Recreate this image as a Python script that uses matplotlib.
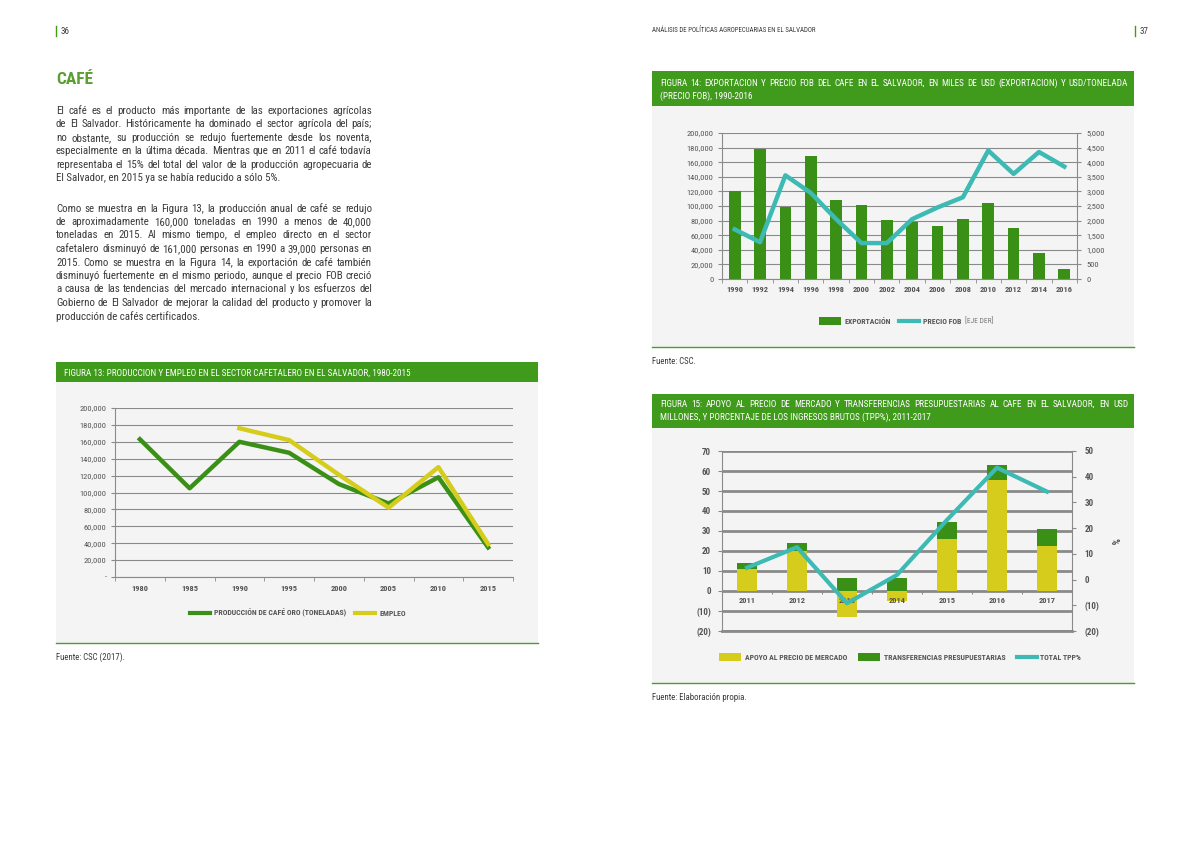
import numpy as np
import matplotlib.pyplot as plt
from matplotlib import font_manager
from matplotlib.font_manager import FontProperties
from matplotlib.patches import Rectangle
from matplotlib.lines import Line2D

# ---- data ----
years13 = ['1980', '1985', '1990', '1995', '2000', '2005', '2010', '2015']
prod13 = [163000, 105000, 160000, 147000, 110000, 87000, 118000, 35000]
emp13 = [np.nan, np.nan, 176000, 162000, 121000, 82000, 130000, 39000]

years14 = ['1990', '1992', '1994', '1996', '1998', '2000', '2002', '2004',
           '2006', '2008', '2010', '2012', '2014', '2016']
export14 = [120000, 178000, 99000, 168000, 108000, 101000, 81000, 78000,
            72000, 82000, 104000, 70000, 36000, 14000]
fob14 = [1700, 1260, 3550, 2950, 2050, 1230, 1230, 2050,
         2450, 2800, 4400, 3600, 4350, 3850]

years15 = ['2011', '2012', '2013', '2014', '2015', '2016', '2017']
apoyo15 = [11, 20, -12.8, -4.8, 26, 55.5, 22.5]
transf15 = [3, 4, 6.5, 6.5, 8.5, 7.5, 8.5]
tpp15 = [4.6, 12.6, -9.2, 1.8, 23.2, 43.5, 34.2]

para1 = [
    "El café es el producto más importante de las exportaciones agrícolas",
    "de El Salvador. Históricamente ha dominado el sector agrícola del país;",
    "no obstante, su producción se redujo fuertemente desde los noventa,",
    "especialmente en la última década. Mientras que en 2011 el café todavía",
    "representaba el 15% del total del valor de la producción agropecuaria de",
    "El Salvador, en 2015 ya se había reducido a sólo 5%.",
]
para2 = [
    "Como se muestra en la Figura 13, la producción anual de café se redujo",
    "de aproximadamente 160,000 toneladas en 1990 a menos de 40,000",
    "toneladas en 2015. Al mismo tiempo, el empleo directo en el sector",
    "cafetalero disminuyó de 161,000 personas en 1990 a 39,000 personas en",
    "2015. Como se muestra en la Figura 14, la exportación de café también",
    "disminuyó fuertemente en el mismo periodo, aunque el precio FOB creció",
    "a causa de las tendencias del mercado internacional y los esfuerzos del",
    "Gobierno de El Salvador de mejorar la calidad del producto y promover la",
    "producción de cafés certificados.",
]

# colours
GREEN = '#3a9016'
HEAD = '#409a1c'
YELLOW = '#d6cc1c'
TEAL = '#3cbab3'
PANEL = '#f4f4f4'
GRID = '#8a8a8a'
TXT = '#3a3a3a'


def pick_font(cands):
    # first installed condensed face, else a plain one
    for fam, stretch in cands:
        try:
            path = font_manager.findfont(FontProperties(family=fam, stretch=stretch),
                                         fallback_to_default=False)
        except ValueError:
            continue
        p = path.lower()
        if stretch == 'normal' or 'condensed' in p or 'narrow' in p:
            return fam, stretch
    return 'DejaVu Sans', 'normal'


FONT, STRETCH = pick_font([('Liberation Sans Narrow', 'normal'), ('Roboto Condensed', 'normal'),
                           ('Roboto', 'condensed'), ('Open Sans', 'condensed'),
                           ('DejaVu Sans', 'condensed'), ('Liberation Sans', 'normal')])
plt.rcParams['font.family'] = FONT
plt.rcParams['font.stretch'] = STRETCH

W, H = 1191, 842
fig = plt.figure(figsize=(W / 100, H / 100), dpi=100)
renderer = fig.canvas.get_renderer()


def fx(x):
    return x / W


def fy(y):
    return 1 - y / H


def rect(x0, y0, x1, y1, color, z=-5):
    fig.patches.append(Rectangle((fx(x0), fy(y1)), (x1 - x0) / W, (y1 - y0) / H,
                                 transform=fig.transFigure, color=color, zorder=z, lw=0))


def hline(x0, x1, y, color, lw):
    fig.lines.append(Line2D([fx(x0), fx(x1)], [fy(y), fy(y)],
                            transform=fig.transFigure, color=color, lw=lw))


def axes_box(x0, y0, x1, y1):
    a = fig.add_axes([fx(x0), fy(y1), (x1 - x0) / W, (y1 - y0) / H])
    a.set_facecolor('none')
    return a


def put(x, y, s, **kw):
    kw.setdefault('va', 'center')
    return fig.text(fx(x), fy(y), s, **kw)


def text_w(s, size, weight='normal'):
    fp = FontProperties(family=FONT, stretch=STRETCH, size=size, weight=weight)
    w, h, d = renderer.get_text_width_height_descent(s, fp, ismath=False)
    return w


def fit(s, width, weight='normal'):
    # font size that makes s about `width` px wide
    return 10 * width / text_w(s, 10, weight)


def justify(lines, x0, x1, y0, dy, size, **kw):
    # spread words so each line fills x0..x1 (last line left aligned)
    for i, line in enumerate(lines):
        y = y0 + i * dy
        if i == len(lines) - 1:
            put(x0, y, line, fontsize=size, **kw)
            continue
        words = line.split(' ')
        widths = [text_w(w, size) for w in words]
        gap = (x1 - x0 - sum(widths)) / max(len(words) - 1, 1)
        x = x0
        for w, wd in zip(words, widths):
            put(x, y, w, fontsize=size, **kw)
            x += wd + gap


def legend_row(items, xc, y, size, gap=9, suffix=None):
    # items: (kind, colour, label); laid out centred on xc
    keys = [22 if kind == 'bar' else 20 for kind, _, _ in items]
    widths = [k + 4 + text_w(lab, size, 'bold') for k, (_, _, lab) in zip(keys, items)]
    total = sum(widths) + gap * (len(items) - 1)
    if suffix:
        total += 3 + text_w(suffix, size * 0.95)
    x = xc - total / 2
    for (kind, col, lab), k, wd in zip(items, keys, widths):
        if kind == 'bar':
            rect(x, y - 4, x + k, y + 4, col, z=2)
        else:
            hline(x, x + k, y, col, 3)
        put(x + k + 4, y, lab, fontsize=size, fontweight='bold', color='#555')
        x += wd + gap
    if suffix:
        put(x - gap + 3, y, suffix, fontsize=size * 0.95, color='#777')


# ---- page furniture ----
for xb, num in [(56, '36'), (1135, '37')]:
    fig.lines.append(Line2D([fx(xb), fx(xb)], [fy(26), fy(36)],
                            transform=fig.transFigure, color=HEAD, lw=1))
    put(xb + 5, 31, num, fontsize=6.5, color=TXT)
top = 'ANÁLISIS DE POLÍTICAS AGROPECUARIAS EN EL SALVADOR'
put(652, 31, top, fontsize=fit(top, 165), color=TXT)

put(56, 80, 'CAFÉ', fontsize=12.5, color='#5b9e32', fontweight='bold')
body = min(8.5, min(fit(l, 312) for l in para1 + para2))
justify(para1, 56, 372, 111, 13.4, body, color=TXT)
justify(para2, 56, 372, 208.5, 13.5, body, color=TXT)

# ---- panels ----
panels = [(56, 538, 362, 382, 643), (652, 1134, 71, 106, 347), (652, 1134, 394, 428, 683)]
for x0, x1, yh, yp, yb in panels:
    rect(x0, yh, x1, yp, HEAD)
    rect(x0, yp, x1, yb, PANEL)
    hline(x0, x1, yb, '#4f9a2a', 1.0)

h13 = 'FIGURA 13: PRODUCCION Y EMPLEO EN EL SECTOR CAFETALERO EN EL SALVADOR, 1980-2015'
h14 = ['FIGURA 14: EXPORTACION Y PRECIO FOB DEL CAFE EN EL SALVADOR, EN MILES DE USD (EXPORTACION) Y USD/TONELADA',
       '(PRECIO FOB), 1990-2016']
h15 = ['FIGURA 15: APOYO AL PRECIO DE MERCADO Y TRANSFERENCIAS PRESUPUESTARIAS AL CAFE EN EL SALVADOR, EN USD',
       'MILLONES, Y PORCENTAJE DE LOS INGRESOS BRUTOS (TPP%), 2011-2017']
hsize = min(7.5, fit(h13, 345), fit(h14[0], 455), fit(h15[0], 455))
put(64, 373, h13, fontsize=hsize, color='white')
justify(h14, 660, 1128, 83, 13, hsize, color='white')
justify(h15, 660, 1128, 404, 13, hsize, color='white')

src = [(56, 657, 'Fuente: CSC (2017).', 70), (652, 362, 'Fuente: CSC.', 45),
       (652, 698, 'Fuente: Elaboración propia.', 94)]
fsrc = min(fit(s, w) for _, _, s, w in src)
for x, y, s, w in src:
    put(x, y, s, fontsize=fsrc, color=TXT)


def style_axis(a, ncat):
    for s in ['top', 'right']:
        a.spines[s].set_visible(False)
    a.spines['left'].set_color(GRID)
    a.spines['bottom'].set_color(GRID)
    a.set_xlim(-0.5, ncat - 0.5)
    a.set_xticks(np.arange(-0.5, ncat, 1), minor=True)
    a.tick_params(axis='x', which='major', length=0, pad=6)
    a.tick_params(axis='x', which='minor', length=3, color=GRID, direction='out')
    a.tick_params(axis='y', length=3, color=GRID, labelsize=6, labelcolor='#555', pad=3)
    a.set_axisbelow(True)


LAB = dict(fontsize=6, fontweight='bold', color='#555')

# ---- figure 13 ----
ax13 = axes_box(115, 408, 513, 577)
x13 = np.arange(len(years13))
ax13.plot(x13, prod13, color=GREEN, lw=3.2)
ax13.plot(x13, emp13, color=YELLOW, lw=3.2)
style_axis(ax13, len(years13))
ax13.set_ylim(0, 200000)
yt = np.arange(0, 200001, 20000)
ax13.set_yticks(yt)
ax13.set_yticklabels(['-' if v == 0 else f'{v:,}' for v in yt])
ax13.set_xticks(x13)
ax13.set_xticklabels(years13, **LAB)
ax13.grid(axis='y', color=GRID, lw=0.8)

lab13 = 'PRODUCCIÓN DE CAFÉ ORO (TONELADAS)'
leg = fit(lab13, 132, 'bold')
legend_row([('line', GREEN, lab13), ('line', YELLOW, 'EMPLEO')], 298, 613, leg)

# ---- figure 14 ----
ax14 = axes_box(722, 133, 1077, 279)
x14 = np.arange(len(years14))
ax14.bar(x14, export14, width=0.46, color=GREEN, zorder=2)
style_axis(ax14, len(years14))
ax14.set_ylim(0, 200000)
ax14.set_yticks(yt)
ax14.set_yticklabels([f'{v:,}' for v in yt])
ax14.set_xticks(x14)
ax14.set_xticklabels(years14, **LAB)
ax14.tick_params(axis='x', which='major', pad=5)
ax14.grid(axis='y', color=GRID, lw=0.8)
tw14 = ax14.twinx()
tw14.set_facecolor('none')
tw14.plot(x14, fob14, color=TEAL, lw=3.2, zorder=3)
tw14.set_ylim(0, 5000)
yt2 = np.arange(0, 5001, 500)
tw14.set_yticks(yt2)
tw14.set_yticklabels([f'{v:,}' for v in yt2])
for s in ['top', 'left', 'bottom']:
    tw14.spines[s].set_visible(False)
tw14.spines['right'].set_color(GRID)
tw14.tick_params(axis='y', length=3, color=GRID, labelsize=6, labelcolor='#555', pad=4)

legend_row([('bar', GREEN, 'EXPORTACIÓN'), ('line', TEAL, 'PRECIO FOB')], 906, 321, leg,
           gap=8, suffix='[EJE DER]')

# ---- figure 15 ----
ax15 = axes_box(722, 451, 1072, 631)
x15 = np.arange(len(years15))
apoyo = np.array(apoyo15)
ax15.bar(x15, apoyo, width=0.41, color=YELLOW, zorder=2)
ax15.bar(x15, transf15, width=0.41, bottom=np.where(apoyo > 0, apoyo, 0), color=GREEN, zorder=2)
ax15.set_xlim(-0.5, len(years15) - 0.5)
ax15.set_ylim(-20, 70)
yt15 = np.arange(-20, 71, 10)
ax15.set_yticks(yt15)
ax15.set_yticklabels([f'({-v})' if v < 0 else str(v) for v in yt15], fontweight='bold')
ax15.set_xticks([])
ax15.grid(axis='y', color=GRID, lw=2)
ax15.set_axisbelow(True)
for s in ['top', 'right']:
    ax15.spines[s].set_visible(False)
ax15.spines['left'].set_color(GRID)
ax15.spines['bottom'].set_color(GRID)
ax15.spines['bottom'].set_linewidth(2)
ax15.tick_params(axis='y', length=3, color=GRID, labelsize=6.5, labelcolor='#555', pad=5)
ax15.vlines(np.arange(0.5, len(years15) - 1, 1), -1.6, 0, color=GRID, lw=0.8)
for i, yr in zip(x15, years15):
    ax15.text(i, -3.2, yr, ha='center', va='top', zorder=4, **LAB)
tw15 = ax15.twinx()
tw15.plot(x15, tpp15, color=TEAL, lw=3, zorder=3)
tw15.set_ylim(-20, 50)
yt2 = np.arange(-20, 51, 10)
tw15.set_yticks(yt2)
tw15.set_yticklabels([f'({-v})' if v < 0 else str(v) for v in yt2], fontweight='bold')
for s in ['top', 'left', 'bottom']:
    tw15.spines[s].set_visible(False)
tw15.spines['right'].set_color(GRID)
tw15.tick_params(axis='y', length=3, color=GRID, labelsize=6.5, labelcolor='#555', pad=6)
tw15.set_ylabel('%', rotation=270, fontsize=7, fontweight='bold', color='#555', labelpad=14)

legend_row([('bar', YELLOW, 'APOYO AL PRECIO DE MERCADO'),
            ('bar', GREEN, 'TRANSFERENCIAS PRESUPUESTARIAS'),
            ('line', TEAL, 'TOTAL TPP%')], 900, 657, leg, gap=11)

fig.savefig('out.png', dpi=100, facecolor='white')
